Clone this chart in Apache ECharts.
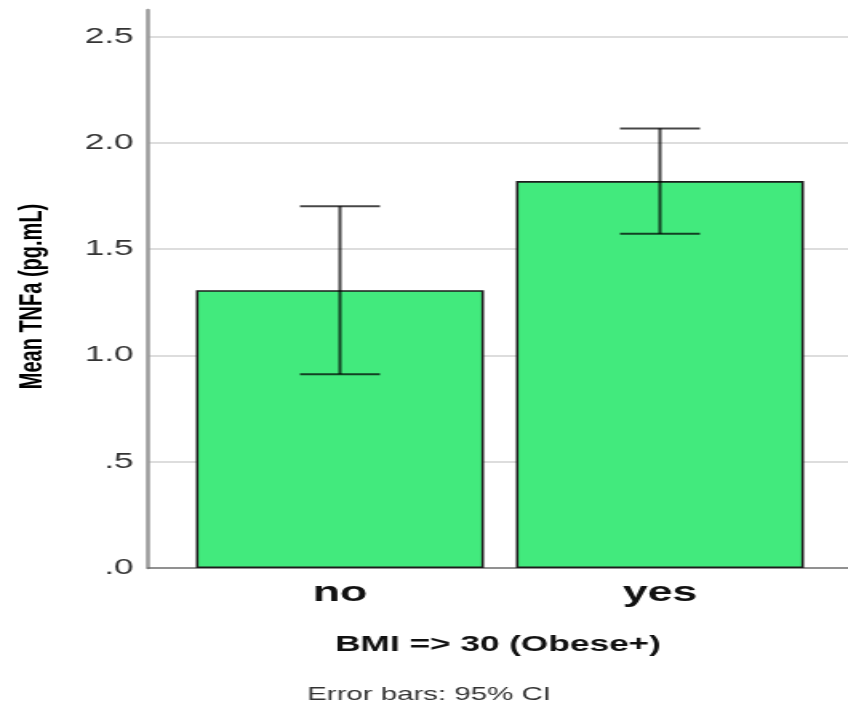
<!DOCTYPE html>
<html>
<head>
<meta charset="utf-8">
<script src="https://cdn.jsdelivr.net/npm/echarts@6/dist/echarts.min.js"></script>
<style>
  html, body { margin: 0; padding: 0; background: #fff; overflow: hidden; width: 848px; height: 708px; }
  #wrap { width: 848px; height: 708px; overflow: hidden; }
  /* the reference image is stretched horizontally; reproduce it with a horizontal scale */
  #chart { width: 530px; height: 708px; transform: scaleX(1.6); transform-origin: 0 0; }
</style>
</head>
<body>
<div id="wrap"><div id="chart"></div></div>
<script>
// ---- data ----
const categories = ['no', 'yes'];
const means = [1.307, 1.820];
const ciLower = [0.912, 1.572];
const ciUpper = [1.702, 2.068];
const yTickValues = [0, 0.5, 1.0, 1.5, 2.0, 2.5];
const xAxisTitle = 'BMI => 30 (Obese+)';
const yAxisTitle = 'Mean TNFa (pg.mL)';
const footnote = 'Error bars: 95% CI';

// ---- chart ----
const chart = echarts.init(document.getElementById('chart'));
const FONT = 'Liberation Sans, Arial, Helvetica, sans-serif';
const catIdx = categories.map((c, i) => i);
const CAP = 0.25; // cap width in category units

const option = {
  animation: false,
  backgroundColor: '#ffffff',
  title: {
    text: footnote,
    left: 187,
    top: 681,
    textStyle: { fontFamily: FONT, fontSize: 18.4, fontWeight: 'normal', color: '#333' }
  },
  grid: { left: 92.5, right: 0, top: 10, bottom: 140 },
  xAxis: {
    type: 'value',
    min: -0.6,
    max: 1.5875,
    name: xAxisTitle,
    nameLocation: 'middle',
    nameGap: 66,
    nameTextStyle: { fontFamily: FONT, fontSize: 22, fontWeight: 'bold', color: '#111' },
    axisLine: { show: true, onZero: false, lineStyle: { color: '#6e6e6e', width: 1.5 } },
    axisTick: { show: false, customValues: catIdx },
    splitLine: { show: false },
    axisLabel: {
      customValues: catIdx,
      margin: 11,
      fontFamily: FONT, fontSize: 28, fontWeight: 'bold', color: '#111',
      formatter: v => categories[Math.round(v)]
    }
  },
  yAxis: {
    type: 'value',
    min: 0,
    max: 2.625,
    interval: 0.5,
    name: yAxisTitle,
    nameLocation: 'middle',
    nameGap: 62,
    nameRotate: 90,
    nameTextStyle: { fontFamily: FONT, fontSize: 20, fontWeight: 'bold', color: '#000', padding: [0, 15, 0, 0] },
    axisLine: { show: true, onZero: false, lineStyle: { color: '#9a9a9a', width: 2.5 } },
    axisTick: { show: false },
    splitLine: { show: true, showMinLine: false, showMaxLine: false, lineStyle: { color: '#d2d2d2', width: 1.5 } },
    axisLabel: {
      customValues: yTickValues,
      margin: 9,
      padding: [7, 0, 0, 0],
      fontFamily: FONT, fontSize: 22, color: '#333',
      formatter: v => v.toFixed(1).replace(/^0/, '')
    }
  },
  series: [
    {
      type: 'bar',
      barWidth: '90%',
      data: categories.map((c, i) => [i, means[i]]),
      itemStyle: { color: '#42ea7d', borderColor: '#1c1c1c', borderWidth: 1.6 },
      z: 2
    },
    {
      type: 'custom',
      data: categories.map((c, i) => [i, ciLower[i], ciUpper[i]]),
      z: 5,
      renderItem: function (params, api) {
        const x = api.value(0);
        const pLo = api.coord([x, api.value(1)]);
        const pHi = api.coord([x, api.value(2)]);
        const half = api.size([CAP, 0])[0] / 2;
        const style = { stroke: 'rgba(0,0,0,0.72)', lineWidth: 2, fill: null };
        return {
          type: 'group',
          children: [
            { type: 'line', shape: { x1: pHi[0], y1: pHi[1], x2: pLo[0], y2: pLo[1] }, style: style },
            { type: 'line', shape: { x1: pHi[0] - half, y1: pHi[1], x2: pHi[0] + half, y2: pHi[1] }, style: style },
            { type: 'line', shape: { x1: pLo[0] - half, y1: pLo[1], x2: pLo[0] + half, y2: pLo[1] }, style: style }
          ]
        };
      }
    }
  ]
};
chart.setOption(option);
</script>
</body>
</html>
